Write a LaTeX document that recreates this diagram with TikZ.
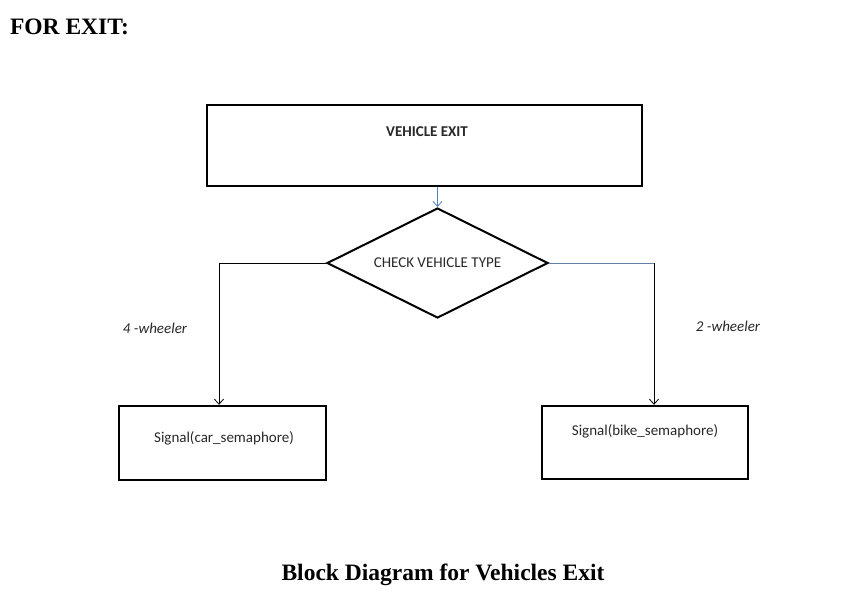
\documentclass[tikz,border=0pt]{standalone}
\usepackage{fontspec}
\setmainfont{Liberation Serif}
\newfontfamily\boxfont{Carlito}
\usetikzlibrary{shapes.geometric,arrows.meta}
\definecolor{linkblue}{RGB}{84,130,190}
\definecolor{boxtext}{RGB}{40,40,40}
\tikzset{
  block/.style={draw,line width=2.4pt,inner sep=0pt,font=\boxfont\fontsize{15}{17}\selectfont,text=boxtext},
  decision/.style={diamond,draw,line width=2pt,inner sep=0pt,aspect=2,font=\boxfont\fontsize{15}{17}\selectfont,text=boxtext},
  branch/.style={font=\boxfont\itshape\fontsize{15}{17}\selectfont,text=boxtext},
  link/.style={line width=0.8pt}
}
\begin{document}
\begin{tikzpicture}[x=1pt,y=-1pt,>={Straight Barb[length=5pt,width=9pt]}]
      \useasboundingbox (0,0) rectangle (866,592);
      % heading and caption
      \node[anchor=west,font=\bfseries\fontsize{23.5}{25}\selectfont] (title) at (6.5,27) {FOR EXIT:};
      \node[font=\bfseries\fontsize{23.5}{25}\selectfont] (caption) at (443,575) {Block Diagram for Vehicles Exit};
      % blocks
      \node[block,minimum width=435pt,minimum height=81pt] (exit) at (424.5,145.5) {};
      \node[font=\boxfont\bfseries\fontsize{15}{17}\selectfont,text=boxtext] (exitlabel) at (427,132) {VEHICLE EXIT};
      \node[decision,minimum width=221pt,minimum height=110pt] (check) at (437.5,263) {CHECK VEHICLE TYPE};
      \node[block,minimum width=207pt,minimum height=74pt] (car) at (222.5,443) {};
      \node[block,minimum width=206pt,minimum height=73pt] (bike) at (645,442.5) {};
      \node[font=\boxfont\fontsize{15}{17}\selectfont,text=boxtext] (carlabel) at (224,438) {Signal(car\_semaphore)};
      \node[font=\boxfont\fontsize{15}{17}\selectfont,text=boxtext] (bikelabel) at (645,431) {Signal(bike\_semaphore)};
      % corners of the branches
      \coordinate (carturn) at (219,263);
      \coordinate (biketurn) at (654,263);
      % connectors
      \draw[->,link,color=linkblue] (exit.south -| check.north) -- (check.north);
      \draw[link] (check.west) -- (carturn);
      \draw[->,link] (carturn) -- (carturn |- car.north);
      \draw[link,color=linkblue!70!gray] (check.east) -- (biketurn);
      \draw[->,link] (biketurn) -- (biketurn |- bike.north);
      % branch labels
      \node[branch] (four) at (155,328) {4 -wheeler};
      \node[branch] (two) at (728,326) {2 -wheeler};
    \end{tikzpicture}
\end{document}
